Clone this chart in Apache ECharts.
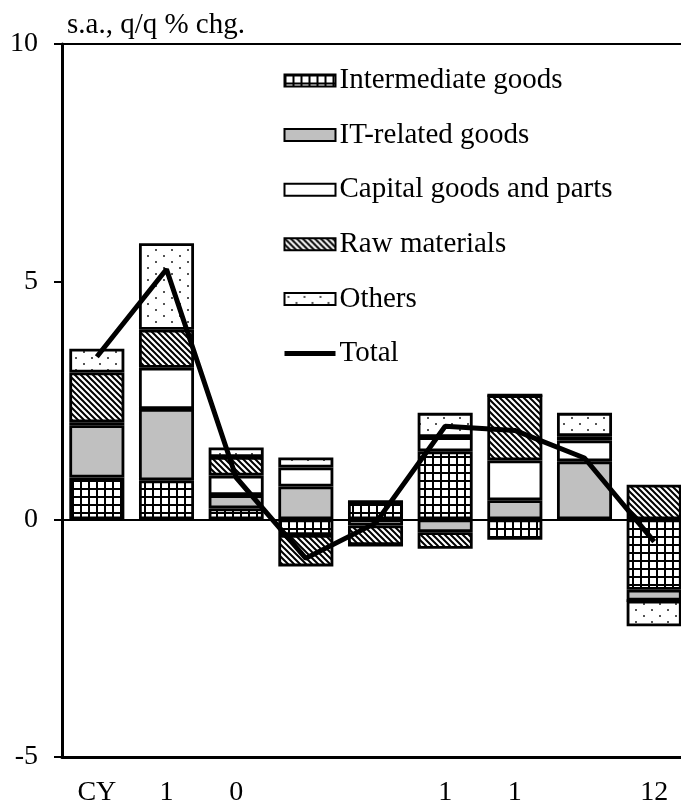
<!DOCTYPE html>
<html>
<head>
<meta charset="utf-8">
<script src="https://cdn.jsdelivr.net/npm/echarts@6/dist/echarts.min.js"></script>
<style>
  html, body { margin: 0; padding: 0; background: #fff; }
  /* the plot runs a little past the right edge of the picture, as in the source */
  #wrap { width: 681px; height: 807px; overflow: hidden; position: relative; }
  #main { width: 689px; height: 807px; position: absolute; left: 0; top: 0; }
</style>
</head>
<body>
<div id="wrap"><div id="main"></div></div>
<script>
// categories (labels as they appear, several are blank)
var categories = ['CY', '1', '0', '', '', '1', '1', '', '12'];

// contributions, s.a. q/q % chg.
var intermediate = [0.88, 0.82, 0.23, -0.33, 0.37, 1.43, -0.43, 0.00, -1.48];
var itRelated    = [1.10, 1.50, 0.28, 0.69, 0.00, -0.27, 0.40, 1.22, -0.23];
var capital      = [0.06, 0.87, 0.41, 0.40, -0.13, 0.30, 0.84, 0.44, 0.00];
var rawMaterials = [1.05, 0.80, 0.39, -0.66, -0.41, -0.35, 1.37, 0.09, 0.73];
var others       = [0.50, 1.82, 0.20, 0.21, 0.00, 0.51, 0.00, 0.49, -0.54];
var total        = [3.42, 5.26, 0.88, -0.82, -0.08, 1.96, 1.87, 1.29, -0.47];

var FONT = '"Liberation Serif", "DejaVu Serif", serif';

// fill patterns
function makePattern(w, h, draw) {
  var c = document.createElement('canvas');
  c.width = w; c.height = h;
  var ctx = c.getContext('2d');
  ctx.fillStyle = '#fff';
  ctx.fillRect(0, 0, w, h);
  draw(ctx);
  return { image: c, repeat: 'repeat' };
}

var gridPat = makePattern(8, 8, function (ctx) {
  ctx.fillStyle = '#000';
  ctx.fillRect(0, 0, 8, 2);
  ctx.fillRect(0, 0, 2, 8);
});

var hatchPat = makePattern(6, 6, function (ctx) {
  ctx.strokeStyle = '#000';
  ctx.lineWidth = 2;
  ctx.beginPath();
  ctx.moveTo(-1, -1); ctx.lineTo(7, 7);
  ctx.moveTo(-1, 5); ctx.lineTo(1, 7);
  ctx.moveTo(5, -1); ctx.lineTo(7, 1);
  ctx.stroke();
});

var dotPat = makePattern(16, 12, function (ctx) {
  ctx.fillStyle = '#555';
  ctx.fillRect(3, 3, 2, 2);
  ctx.fillRect(11, 9, 2, 2);
});

function barSeries(name, data, fill) {
  return {
    name: name,
    type: 'bar',
    stack: 'g',
    data: data,
    barCategoryGap: '21%',
    itemStyle: { color: fill, borderColor: '#000', borderWidth: 2.8 }
  };
}

var myChart = echarts.init(document.getElementById('main'), null, { renderer: 'canvas' });

var option = {
  animation: false,
  backgroundColor: '#fff',
  textStyle: { fontFamily: FONT },
  grid: { left: 62, top: 44, right: 0, bottom: 47 },
  legend: {
    orient: 'vertical',
    left: 282,
    top: 66,
    padding: 0,
    itemWidth: 51,
    itemHeight: 12,
    itemGap: 25.6,
    textStyle: { fontFamily: FONT, fontSize: 29, color: '#000', padding: [0, 0, 0, -1] },
    data: [
      { name: 'Intermediate goods', icon: 'rect' },
      { name: 'IT-related goods', icon: 'rect' },
      { name: 'Capital goods and parts', icon: 'rect' },
      { name: 'Raw materials', icon: 'rect' },
      { name: 'Others', icon: 'rect' },
      {
        name: 'Total',
        lineStyle: { color: '#000', width: 5 },
        itemStyle: { color: 'transparent', borderColor: 'transparent', borderWidth: 0 }
      }
    ]
  },
  graphic: [{
    type: 'text', left: 67, top: 11,
    style: { text: 's.a., q/q % chg.', fontFamily: FONT, fontSize: 29, fill: '#000' }
  }],
  xAxis: [{
    type: 'category',
    data: categories,
    position: 'bottom',
    axisLine: { onZero: false, lineStyle: { color: '#000', width: 3 } },
    axisTick: { inside: true, interval: 3, length: 9, lineStyle: { color: '#000', width: 2 } },
    axisLabel: { interval: 0, color: '#000', fontSize: 28, fontFamily: FONT, margin: 22 }
  }, {
    type: 'category',
    data: categories,
    position: 'top',
    axisLine: { onZero: false, lineStyle: { color: '#000', width: 2 } },
    axisTick: { show: false },
    axisLabel: { show: false }
  }],
  yAxis: {
    type: 'value',
    min: -5, max: 10, interval: 5,
    axisLine: { show: true, lineStyle: { color: '#000', width: 3 } },
    axisTick: { show: true, length: 8, lineStyle: { color: '#000', width: 2 } },
    axisLabel: { color: '#000', fontSize: 28, fontFamily: FONT, margin: 24 },
    splitLine: { show: false }
  },
  series: [
    barSeries('Intermediate goods', intermediate, gridPat),
    barSeries('IT-related goods', itRelated, '#c0c0c0'),
    barSeries('Capital goods and parts', capital, '#fff'),
    barSeries('Raw materials', rawMaterials, hatchPat),
    barSeries('Others', others, dotPat),
    {
      name: 'Total',
      type: 'line',
      data: total,
      symbol: 'none',
      z: 10,
      lineStyle: { color: '#000', width: 5 },
      itemStyle: { color: '#000' },
      markLine: {
        silent: true,
        symbol: 'none',
        label: { show: false },
        lineStyle: { color: '#000', width: 2, type: 'solid' },
        data: [{ yAxis: 0 }]
      }
    }
  ]
};

myChart.setOption(option);
</script>
</body>
</html>
